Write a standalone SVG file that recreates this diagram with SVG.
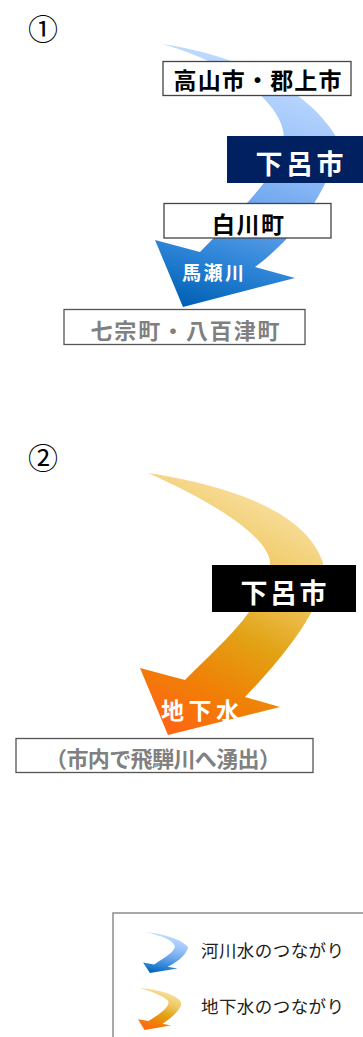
<svg xmlns="http://www.w3.org/2000/svg" xmlns:xlink="http://www.w3.org/1999/xlink" width="363" height="1037" viewBox="0 0 363 1037">
<style>
.jp{font-family:"Noto Sans CJK JP","Noto Sans",sans-serif;}
.b{font-weight:700;}
.box{fill:#ffffff;stroke:#444444;stroke-width:1.3;}
.gbox{fill:#ffffff;stroke:#555555;stroke-width:1.3;}
.blk{fill:#000000;}
.wht{fill:#ffffff;}
.gry{fill:#808080;}
.num{font-size:30px;fill:#000000;}
.leg{font-size:17.5px;fill:#222222;}
</style>
<defs>
<linearGradient id="gBlue" gradientUnits="userSpaceOnUse" x1="255" y1="55" x2="180" y2="305">
<stop offset="0" stop-color="#c4ddff"/>
<stop offset="0.3" stop-color="#9cc4fb"/>
<stop offset="0.55" stop-color="#6ea6ee"/>
<stop offset="0.78" stop-color="#2f86d8"/>
<stop offset="1" stop-color="#0060b4"/>
</linearGradient>
<linearGradient id="gOrange" gradientUnits="userSpaceOnUse" x1="285" y1="495" x2="165" y2="730">
<stop offset="0" stop-color="#f9e2a6"/>
<stop offset="0.3" stop-color="#f0c862"/>
<stop offset="0.55" stop-color="#e2a214"/>
<stop offset="0.78" stop-color="#f08006"/>
<stop offset="1" stop-color="#ff6414"/>
</linearGradient>
<path id="arrowBlue" fill="url(#gBlue)" d="M162,44 C240,55 310,90 338,140 C336,175 305,230 255,267 L295,278 L183,307 L155,240 L200,252 C245,205 290,165 283,130 C275,95 220,60 162,44 Z"/>
<path id="arrowOrange" fill="url(#gOrange)" d="M148,473 C240,487 305,515 322,560 C332,590 300,640 245,697 L280,707 L168,735 L140,668 L185,680 C225,640 262,610 270,565 C272,540 220,505 148,473 Z"/>
</defs>

<g id="connectors">
<use id="river-arrow" xlink:href="#arrowBlue"/>
<use id="ground-arrow" xlink:href="#arrowOrange"/>
</g>

<g id="label-1">
<text class="jp num" x="43" y="40" text-anchor="middle">①</text>
</g>

<g id="node-takayama">
<rect class="box" x="163" y="61.5" width="188" height="34"/>
<text class="jp b blk" x="257.5" y="89" font-size="23" text-anchor="middle" textLength="168" lengthAdjust="spacing">高山市・郡上市</text>
</g>

<g id="node-gero1">
<rect x="227" y="136" width="136" height="47" fill="#002060"/>
<text class="jp b wht" x="299.5" y="174" font-size="27" text-anchor="middle" textLength="88" lengthAdjust="spacing">下呂市</text>
</g>

<g id="node-shirakawa">
<rect class="box" x="164" y="203.5" width="167" height="34.5"/>
<text class="jp b blk" x="248" y="233" font-size="23" text-anchor="middle" textLength="72" lengthAdjust="spacing">白川町</text>
</g>

<g id="label-maze">
<text class="jp b wht" x="213" y="280" font-size="19" text-anchor="middle" textLength="62" lengthAdjust="spacing">馬瀬川</text>
</g>

<g id="node-hichiso">
<rect class="gbox" x="64" y="309.5" width="241" height="35"/>
<text class="jp b gry" x="185" y="339" font-size="22" text-anchor="middle" textLength="189" lengthAdjust="spacing">七宗町・八百津町</text>
</g>

<g id="label-2">
<text class="jp num" x="43" y="469" text-anchor="middle">②</text>
</g>

<g id="node-gero2">
<rect x="212" y="565" width="144" height="47" fill="#000000"/>
<text class="jp b wht" x="283.5" y="603" font-size="27" text-anchor="middle" textLength="86" lengthAdjust="spacing">下呂市</text>
</g>

<g id="label-chikasui">
<text class="jp b wht" x="200" y="719" font-size="23" text-anchor="middle" textLength="78" lengthAdjust="spacing">地下水</text>
</g>

<g id="node-spring">
<rect class="gbox" x="16" y="738.5" width="297" height="34"/>
<text class="jp b gry" x="163" y="767" font-size="22" text-anchor="middle" textLength="236" lengthAdjust="spacing">（市内で飛騨川へ湧出）</text>
</g>

<g id="legend">
<rect x="113" y="913" width="260" height="140" fill="#ffffff" stroke="#8c8c8c" stroke-width="1.5"/>
<use xlink:href="#arrowBlue" transform="translate(104.9,925.1) scale(0.246,0.156)"/>
<text class="jp leg" x="201" y="957" textLength="143" lengthAdjust="spacing">河川水のつながり</text>
<use xlink:href="#arrowOrange" transform="translate(105.1,912.3) scale(0.235,0.16)"/>
<text class="jp leg" x="201" y="1013" textLength="143" lengthAdjust="spacing">地下水のつながり</text>
</g>
</svg>
